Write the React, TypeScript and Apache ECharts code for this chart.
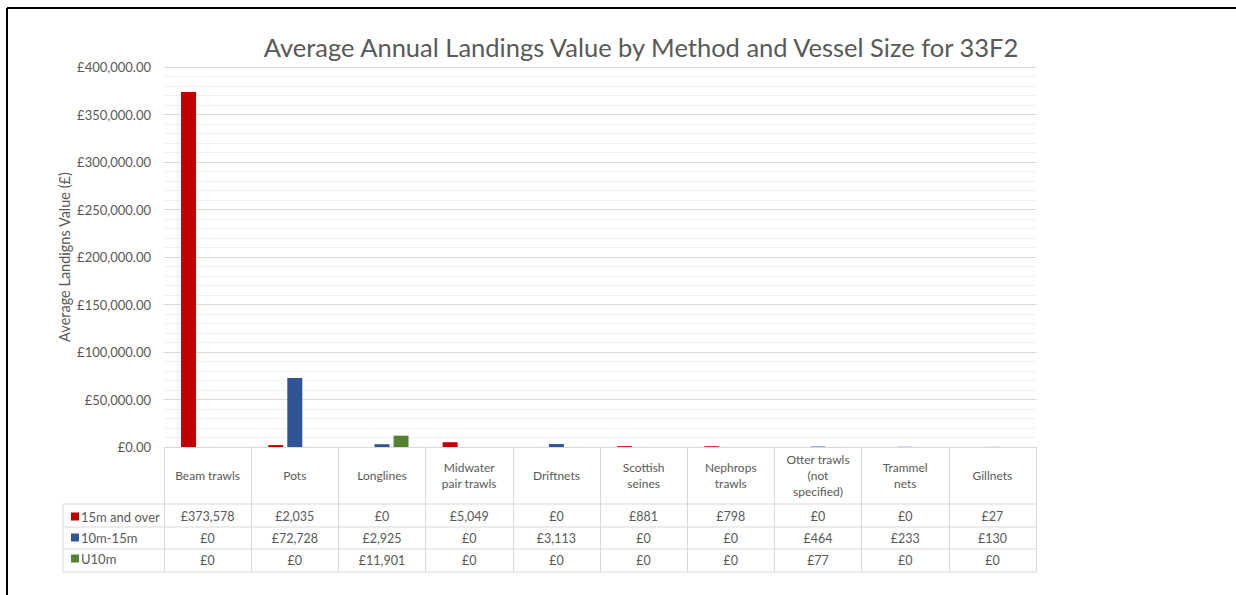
import React, { useEffect, useRef } from 'react';
import * as echarts from 'echarts';

const categories = [
  'Beam trawls',
  'Pots',
  'Longlines',
  'Midwater\npair trawls',
  'Driftnets',
  'Scottish\nseines',
  'Nephrops\ntrawls',
  'Otter trawls\n(not\nspecified)',
  'Trammel\nnets',
  'Gillnets',
];
const seriesNames = ['15m and over', '10m-15m', 'U10m'];
const over15m = [373578, 2035, 0, 5049, 0, 881, 798, 0, 0, 27];
const m10to15 = [0, 72728, 2925, 0, 3113, 0, 0, 464, 233, 130];
const under10m = [0, 0, 11901, 0, 0, 0, 0, 77, 0, 0];
const seriesValues = [over15m, m10to15, under10m];
const seriesColors = ['#C00000', '#2F5597', '#548235'];

const titleText = 'Average Annual Landings Value by Method and Vessel Size for 33F2';
const yAxisTitle = 'Average Landigns Value (£)';
const yMin = 0;
const yMax = 400000;
const yInterval = 50000;

const FONT = 'Lato';
const TXT = '#595959';
const GRID_C = '#d9d9d9';

function groupDigits(n: number): string {
  return String(n).replace(/\B(?=(\d{3})+(?!\d))/g, ',');
}
function fmtCell(n: number): string {
  return '£' + groupDigits(Math.round(n));
}
function fmtAxis(n: number): string {
  return '£' + groupDigits(Math.round(n)) + '.00';
}

export default function App() {
  const ref = useRef<HTMLDivElement>(null);
  useEffect(() => {
    if (!ref.current) return;
    const chart = echarts.init(ref.current, null, { renderer: 'svg' });
    const plotLeft = 164;
    const plotRight = 1036;
    const plotTop = 67;
    const plotBottom = 447;
    const rowLines = [504, 527, 549, 572];
    const tableLeft = 63;

    const rowMargins = [69, 91, 113];

    const valueAxes = seriesValues.map((vals, k) => ({
      type: 'category',
      gridIndex: 0,
      position: 'bottom',
      offset: 0,
      data: categories,
      axisLine: { show: false },
      axisTick: { show: false },
      splitLine: { show: false },
      axisLabel: {
        interval: 0,
        margin: rowMargins[k],
        verticalAlign: 'middle',
        color: TXT,
        fontSize: 12.5,
        fontFamily: FONT,
        formatter: (_v: string, i: number) => fmtCell(vals[i]),
      },
    }));

    const graphics: any[] = [
      // frame
      { type: 'line', shape: { x1: 7, y1: 8, x2: 1236, y2: 8 }, style: { stroke: '#000', lineWidth: 2 } },
      { type: 'line', shape: { x1: 7, y1: 8, x2: 7, y2: 595 }, style: { stroke: '#000', lineWidth: 2 } },
      // table legend column
      { type: 'line', shape: { x1: tableLeft, y1: rowLines[0], x2: tableLeft, y2: rowLines[3] }, style: { stroke: GRID_C, lineWidth: 1 } },
    ];
    rowLines.forEach((y) => {
      graphics.push({
        type: 'line',
        shape: { x1: tableLeft, y1: y, x2: plotRight, y2: y },
        style: { stroke: GRID_C, lineWidth: 1 },
      });
    });

    chart.setOption({
      animation: false,
      textStyle: { fontFamily: FONT },
      title: {
        text: titleText,
        left: 636,
        top: 29,
        textAlign: 'center',
        textStyle: { fontFamily: FONT, fontSize: 25.5, fontWeight: 'normal', color: TXT },
      },
      legend: {
        data: seriesNames,
        orient: 'vertical',
        left: 66,
        top: 505,
        itemWidth: 8,
        itemHeight: 8,
        itemGap: 8,
        icon: 'rect',
        selectedMode: false,
        textStyle: { color: TXT, fontSize: 13, fontFamily: FONT, padding: [0, 0, 0, -3] },
      },
      grid: {
        left: plotLeft,
        right: 1236 - plotRight,
        top: plotTop,
        bottom: 595 - plotBottom,
        containLabel: false,
      },
      xAxis: [
        {
          type: 'category',
          data: categories,
          position: 'bottom',
          axisLine: { show: true, lineStyle: { color: GRID_C } },
          axisTick: { show: true, length: 125, interval: 0, lineStyle: { color: GRID_C } },
          axisLabel: {
            interval: 0,
            margin: 28,
            verticalAlign: 'middle',
            lineHeight: 16,
            color: TXT,
            fontSize: 12,
            fontFamily: FONT,
          },
          splitLine: { show: false },
        },
        ...valueAxes,
      ],
      yAxis: {
        type: 'value',
        min: yMin,
        max: yMax,
        interval: yInterval,
        name: yAxisTitle,
        nameLocation: 'middle',
        nameGap: 92,
        nameMoveOverlap: false,
        nameTextStyle: { color: TXT, fontSize: 14.5, fontFamily: FONT },
        axisLine: { show: false },
        axisTick: { show: false },
        axisLabel: { color: TXT, fontSize: 13, fontFamily: FONT, margin: 13, formatter: (v: number) => fmtAxis(v) },
        splitLine: { show: true, lineStyle: { color: GRID_C, width: 1 } },
        minorTick: { show: false, splitNumber: 5 },
        minorSplitLine: { show: true, lineStyle: { color: '#efefef', width: 1 } },
      },
      series: seriesNames.map((name, k) => ({
        name,
        type: 'bar',
        xAxisIndex: 0,
        data: seriesValues[k],
        barWidth: 15,
        barGap: '27%',
        itemStyle: { color: seriesColors[k] },
      })),
      graphic: graphics,
    });
    return () => chart.dispose();
  }, []);
  return (
    <div
      ref={ref}
      style={{ position: 'fixed', left: 0, top: 0, width: 1236, height: 595, background: '#fff' }}
    />
  );
}
